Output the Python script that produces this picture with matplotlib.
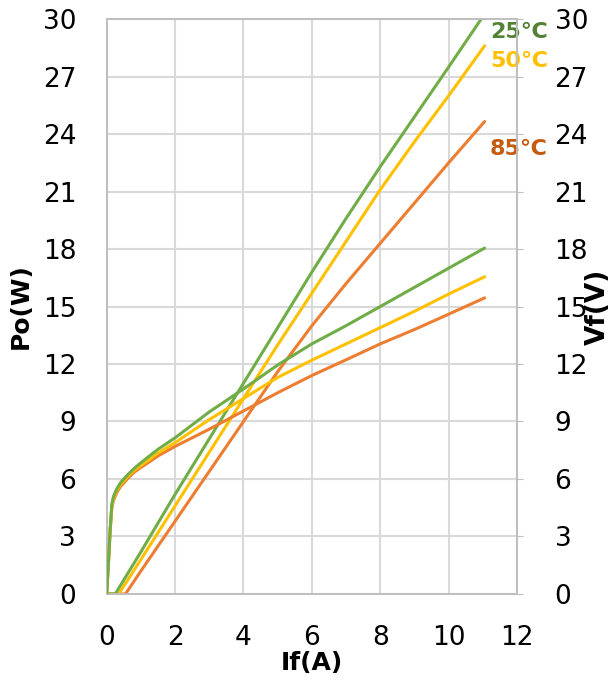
import matplotlib
matplotlib.use("Agg")
import matplotlib.pyplot as plt

# Output power Po(W) vs forward current If(A)
po_25_x = [0, 0.25, 1, 2, 3, 4, 5, 6, 7, 8, 9, 10, 10.95]
po_25_y = [0, 0, 2.2, 5.2, 8.1, 11.0, 13.9, 16.8, 19.6, 22.3, 24.9, 27.5, 30.0]
po_50_x = [0, 0.35, 1, 2, 3, 4, 5, 6, 7, 8, 9, 10, 11.05]
po_50_y = [0, 0, 1.8, 4.6, 7.4, 10.2, 13.0, 15.7, 18.4, 21.1, 23.6, 26.0, 28.6]
po_85_x = [0, 0.55, 1, 2, 3, 4, 5, 6, 7, 8, 9, 10, 11.05]
po_85_y = [0, 0, 1.2, 3.8, 6.4, 9.0, 11.6, 14.0, 16.2, 18.3, 20.4, 22.5, 24.65]

# Forward voltage Vf(V) vs If(A)
vf_x = [0, 0.05, 0.1, 0.15, 0.2, 0.3, 0.4, 0.6, 0.8, 1, 1.5, 2, 3, 4, 5, 6, 7, 8, 9, 10, 11.05]
vf_25 = [0, 1.6, 3.3, 4.7, 5.1, 5.5, 5.8, 6.2, 6.55, 6.85, 7.55, 8.15, 9.5, 10.7, 11.95, 13.05, 14.0, 15.0, 16.0, 17.0, 18.05]
vf_50 = [0, 1.6, 3.3, 4.6, 5.0, 5.4, 5.7, 6.1, 6.45, 6.7, 7.35, 7.9, 9.1, 10.2, 11.3, 12.2, 13.05, 13.9, 14.75, 15.65, 16.55]
vf_85 = [0, 1.6, 3.3, 4.5, 4.9, 5.3, 5.6, 6.0, 6.35, 6.6, 7.2, 7.7, 8.6, 9.55, 10.5, 11.4, 12.22, 13.05, 13.8, 14.6, 15.45]

labels = ["25℃", "50℃", "85℃"]
line_colors = ["#70AD47", "#FFC000", "#ED7D31"]
text_colors = ["#548235", "#FFC000", "#C55A11"]
label_y = [29.3, 27.8, 23.2]

x_ticks = [0, 2, 4, 6, 8, 10, 12]
y_ticks = [0, 3, 6, 9, 12, 15, 18, 21, 24, 27, 30]

plt.rcParams['font.family'] = ['DejaVu Sans', 'Noto Sans CJK JP']

fig = plt.figure(figsize=(6.15, 6.84), dpi=100)
ax = fig.add_axes([0.1735, 0.1316, 0.6673, 0.8406])
ax2 = ax.twinx()

grid_c = "#D9D9D9"
lw = 2.2

for xs, ys, c in [(po_85_x, po_85_y, line_colors[2]),
                  (po_50_x, po_50_y, line_colors[1]),
                  (po_25_x, po_25_y, line_colors[0])]:
    ax.plot(xs, ys, color=c, lw=lw, solid_capstyle='round', zorder=3)

for ys, c in [(vf_85, line_colors[2]), (vf_50, line_colors[1]), (vf_25, line_colors[0])]:
    ax2.plot(vf_x, ys, color=c, lw=lw, solid_capstyle='round', zorder=3)

for a in (ax, ax2):
    a.set_xlim(0, 12)
    a.set_ylim(0, 30)
    a.set_yticks(y_ticks)
    for s in a.spines.values():
        s.set_color("#BFBFBF")
        s.set_linewidth(1.3)

ax.set_xticks(x_ticks)
ax.grid(True, color=grid_c, lw=1.5)
ax.set_axisbelow(True)

ax.tick_params(axis='x', length=0, pad=22, labelsize=19)
ax.tick_params(axis='y', length=0, pad=22, labelsize=19)
ax2.tick_params(axis='y', length=4, color="#BFBFBF", pad=23, labelsize=19)

ax.set_xlabel("If(A)", fontsize=18, fontweight='bold', labelpad=0)
ax.set_ylabel("Po(W)", fontsize=18, fontweight='bold', labelpad=7)
ax2.set_ylabel("Vf(V)", fontsize=19, fontweight='bold', labelpad=-2)

for lab, yv, tc in zip(labels, label_y, text_colors):
    ax.text(12.05, yv, lab, color=tc, fontsize=16, fontweight='bold',
            ha='center', va='center', clip_on=False, zorder=5)

fig.savefig("out.png", dpi=100)
